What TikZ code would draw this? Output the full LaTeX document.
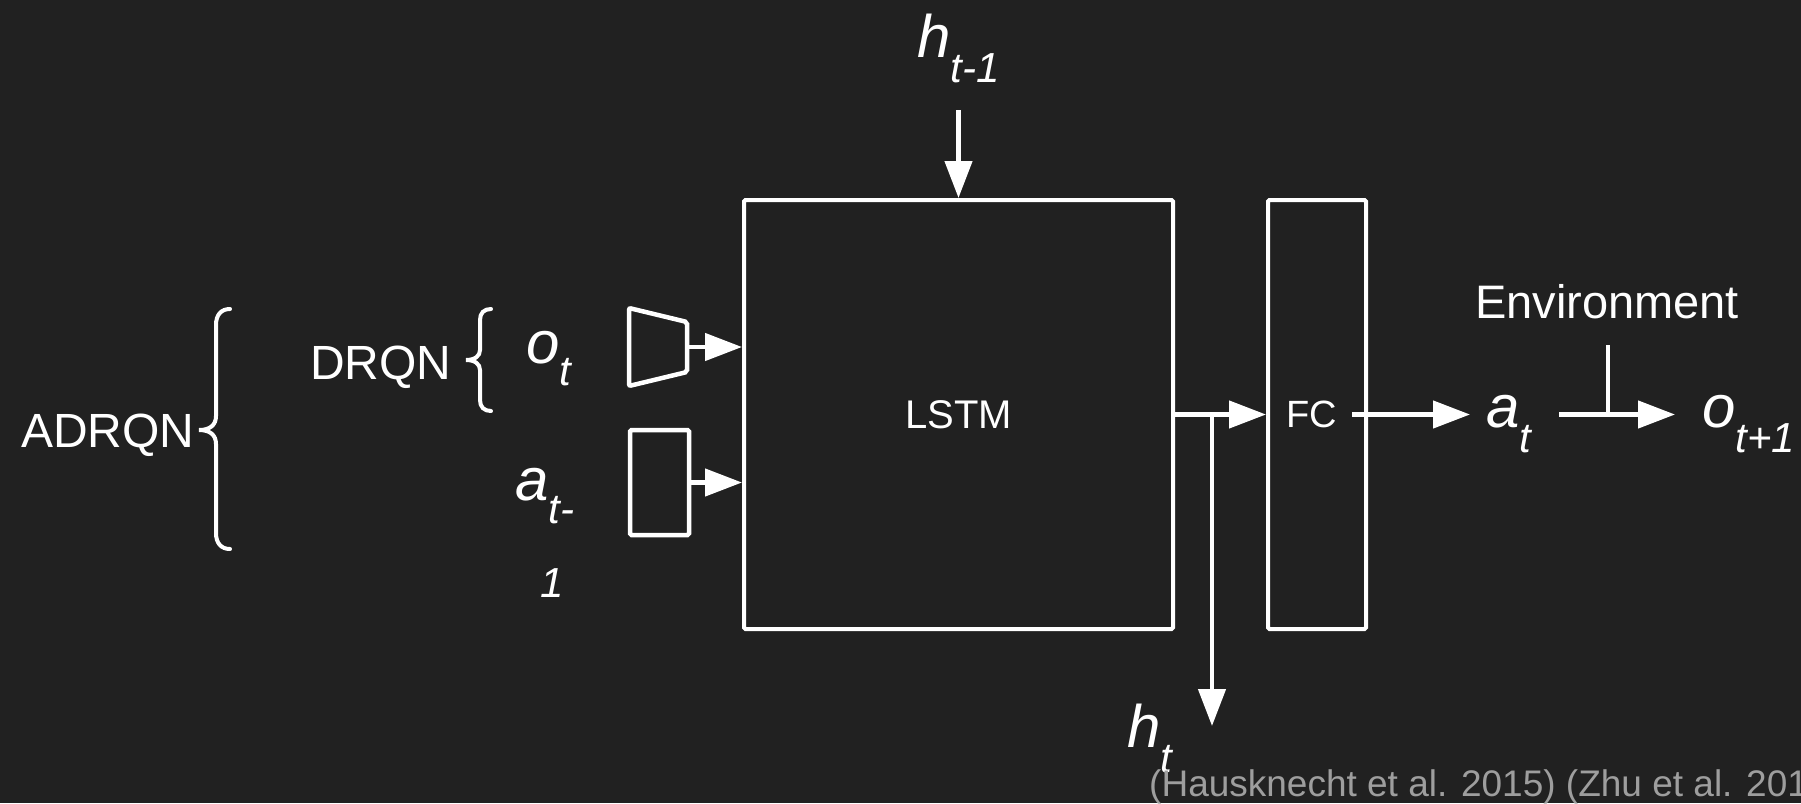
\documentclass[tikz,border=0pt]{standalone}
\usepackage{fontspec}
\setmainfont{Liberation Sans}
\usetikzlibrary{arrows.meta}
\definecolor{bg}{RGB}{33,33,33}
\definecolor{citegray}{RGB}{158,158,158}
\newcommand{\mlab}[3][25pt]{{\fontsize{60}{60}\selectfont\itshape #2\raisebox{-#1}{\fontsize{42}{42}\selectfont #3}}}
\begin{document}
\begin{tikzpicture}[x=1pt,y=-1pt,
  box/.style={draw=white, line width=4pt, rounded corners=1.5pt, inner sep=0pt, text=white},
  arr/.style={-{Triangle[length=37pt,width=27pt]}, line width=4.5pt, draw=white},
  plain/.style={line width=4.5pt, draw=white},
  brace/.style={line width=4pt, draw=white, line cap=round},
  lbl/.style={text=white, inner sep=0pt, anchor=base west},
  big/.style={font=\fontsize{48}{48}\selectfont}]
\fill[bg] (0,0) rectangle (1801,803);
\useasboundingbox (0,0) rectangle (1801,803);

% main boxes
\node[box, minimum width=429pt, minimum height=429pt, font=\fontsize{40}{40}\selectfont] (lstm) at (958.5,414.5) {LSTM};
\node[box, minimum width=98pt, minimum height=429pt, font=\fontsize{38}{38}\selectfont] (fc) at (1317,414.5) {\hspace*{-10pt}FC};

% input encoders
\draw[plain, line width=4.5pt, rounded corners=2pt] (629,308) -- (687,322) -- (687,372) -- (629,386) -- cycle;
\coordinate (trapR) at (687,347);
\node[box, line width=4.5pt, minimum width=59pt, minimum height=105pt] (ain) at (659.5,482.5) {};
\draw[arr] (trapR) -- (trapR -| lstm.west);
\draw[arr] (ain.east) -- (ain.east -| lstm.west);

% hidden state in
\node[lbl] (htm) at (917,57) {\mlab{h}{t-1}};
\coordinate (htop) at (958.5,110);
\draw[arr] (htop) -- (lstm.north);

% LSTM -> FC and hidden state out
\draw[arr] (lstm.east) -- (fc.west);
\coordinate (br) at (1212,414.5);
\coordinate (hbot) at (1212,726);
\draw[arr] (br) -- (hbot);
\node[lbl] (ht) at (1127,747) {\mlab{h}{t}};

% FC -> action
\node[lbl] (at) at (1486,427) {\mlab{a}{t}};
\coordinate (fcout) at (1352,414.5);
\coordinate (atin) at (1470,414.5);
\draw[arr] (fcout) -- (atin);

% environment
\node[text=white, anchor=base, font=\fontsize{47}{47}\selectfont, inner sep=0pt] (env) at (1607,318) {Environment};
\coordinate (envs) at (1559,414.5);
\coordinate (enve) at (1675,414.5);
\coordinate (envj) at (1608,414.5);
\coordinate (envtop) at (1608,345);
\draw[arr] (envs) -- (enve);
\draw[plain] (envtop) -- (envj);
\node[lbl] (otp) at (1702,427) {\mlab{o}{t+1}};

% inputs
\node[lbl] (ot) at (526,363) {\mlab[22pt]{o}{t}};
\node[lbl] (atm) at (515,500) {\mlab[23pt]{a}{t-}};
\node[lbl, font=\fontsize{42}{42}\selectfont\itshape] (one) at (540,597) {1};

% labels and braces
\node[lbl, big] (drqn) at (310,379) {DRQN};
\node[lbl, big] (adrqn) at (21,447) {ADRQN};
\draw[brace] (491,309) .. controls (484,309) and (480,313) .. (480,320)
  -- (480,350) .. controls (480,356) and (475,360) .. (466,360)
  .. controls (475,360) and (480,364) .. (480,370)
  -- (480,400) .. controls (480,407) and (484,411) .. (491,411);
\draw[brace] (230,309) .. controls (221,309) and (216,315) .. (216,325)
  -- (216,416) .. controls (216,425) and (210,430) .. (199,430)
  .. controls (210,430) and (216,435) .. (216,444)
  -- (216,533) .. controls (216,543) and (221,549) .. (230,549);

% citation
\node[anchor=base west, inner sep=0pt, text=citegray, font=\fontsize{37}{37}\selectfont] (cite) at (1149,796) {(Hausknecht et al. 2015) (Zhu et al. 201};
\end{tikzpicture}
\end{document}
